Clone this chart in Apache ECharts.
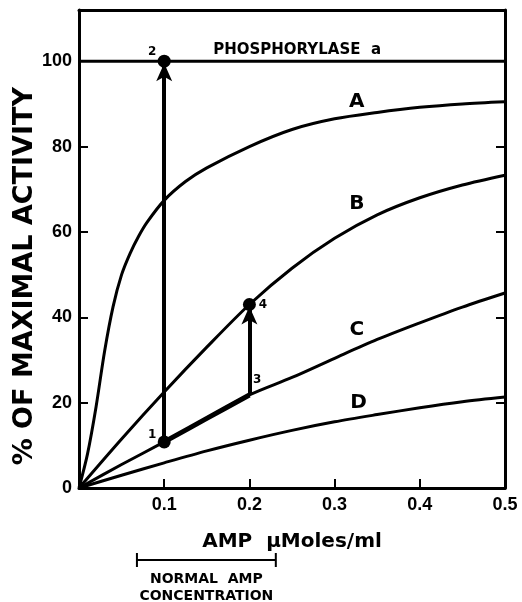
<!DOCTYPE html>
<html><head><meta charset="utf-8">
<script src="https://cdn.jsdelivr.net/npm/echarts@6/dist/echarts.min.js"></script>
<style>html,body{margin:0;padding:0;background:#fff}#c{width:522px;height:602px}</style>
</head><body><div id="c"></div>
<script>
// ---- data ----
const aX = [0, 0.01, 0.02, 0.03, 0.04, 0.05, 0.06, 0.07, 0.08, 0.1, 0.125, 0.15, 0.2, 0.25, 0.3, 0.35, 0.4, 0.45, 0.5];
const aY = [0, 8, 19, 32, 42.5, 50, 55, 59, 62.3, 67.4, 71.8, 75, 80, 84, 86.5, 88, 89.2, 90, 90.5];
const bX = [0, 0.05, 0.1, 0.15, 0.2, 0.25, 0.3, 0.35, 0.4, 0.45, 0.5];
const bY = [0, 11.5, 22.5, 33, 43, 51.5, 58.5, 64, 68, 71, 73.3];
const cX = [0, 0.05, 0.1, 0.15, 0.2, 0.25, 0.3, 0.35, 0.4, 0.45, 0.5];
const cY = [0, 5.5, 10.8, 16.3, 21.8, 25.9, 30.4, 34.8, 38.7, 42.4, 45.7];
const dX = [0, 0.05, 0.1, 0.15, 0.2, 0.25, 0.3, 0.35, 0.4, 0.45, 0.5];
const dY = [0, 3, 5.9, 8.7, 11.2, 13.5, 15.5, 17.2, 18.8, 20.2, 21.3];
const phosX = [0, 0.5];
const phosY = [100, 100];
const dotX = [0.1, 0.1, 0.2];
const dotY = [10.8, 100, 43];
const arrowX = [0.1, 0.2];
const arrowFrom = [10.8, 21.8];
const arrowTo = [99.5, 42.5];
const numX = [0.086, 0.086, 0.209, 0.216];
const numY = [12.4, 102.3, 25.3, 43];
const numText = ['1', '2', '3', '4'];
const curveLabelX = [0.326, 0.326, 0.326, 0.328];
const curveLabelY = [90.4, 66.7, 37, 20];
const curveLabelText = ['A', 'B', 'C', 'D'];
const phosLabel = 'PHOSPHORYLASE  a';
const phosLabelX = 0.256, phosLabelY = 102.6;
const normalRange = [0.068, 0.231];
const xTicks = [0, 0.1, 0.2, 0.3, 0.4, 0.5];
const yTicks = [0, 20, 40, 60, 80, 100];

const pairs = (xs, ys) => xs.map((x, i) => [x, ys[i]]);
const BOLD = 'DejaVu Sans';
const NUMF = 'Liberation Sans';
const black = '#000';

const chart = echarts.init(document.getElementById('c'), null, {renderer: 'canvas'});
const boldC = cX.map((x, i) => [x, cY[i]]).filter(p => p[0] >= 0.1 && p[0] <= 0.2);
const frameLine = {show: true, onZero: false, lineStyle: {color: black, width: 3}};
const solidItem = {color: black, opacity: 1};

chart.setOption({
  animation: false,
  backgroundColor: '#fff',
  grid: [
    {left: 79, right: 17, top: 10, bottom: 114},
    {left: 79, right: 17, top: 553, height: 14}
  ],
  xAxis: [
    {gridIndex: 0, type: 'value', min: 0, max: 0.5, interval: 0.1, position: 'bottom',
     axisLine: frameLine,
     axisTick: {show: true, inside: true, length: 9, lineStyle: {color: black, width: 2}},
     axisLabel: {showMinLabel: false, color: black, fontFamily: NUMF, fontWeight: 'bold', fontSize: 18, margin: 8,
       formatter: v => xTicks.includes(Math.round(v*10)/10) ? String(Math.round(v*10)/10) : ''},
     splitLine: {show: false},
     name: 'AMP  \u03bcMoles/ml', nameLocation: 'middle', nameGap: 44,
     nameTextStyle: {color: black, fontFamily: BOLD, fontWeight: 'bold', fontSize: 20}},
    {gridIndex: 0, type: 'value', min: 0, max: 0.5, position: 'top',
     axisLine: frameLine,
     axisTick: {show: false}, axisLabel: {show: false}, splitLine: {show: false}},
    {gridIndex: 1, type: 'value', min: 0, max: 0.5, show: false}
  ],
  yAxis: [
    {gridIndex: 0, type: 'value', min: 0, max: 112, interval: 20, position: 'left',
     axisLine: frameLine,
     axisTick: {show: true, inside: true, length: 9, lineStyle: {color: black, width: 2}},
     axisLabel: {showMaxLabel: false, color: black, fontFamily: NUMF, fontWeight: 'bold', fontSize: 18, margin: 7,
       formatter: v => yTicks.includes(v) ? String(v) : ''},
     splitLine: {show: false}},
    {gridIndex: 0, type: 'value', min: 0, max: 112, interval: 20, position: 'right',
     axisLine: frameLine,
     axisTick: {show: true, inside: true, length: 9, lineStyle: {color: black, width: 2}},
     axisLabel: {show: false}, splitLine: {show: false}},
    {gridIndex: 1, type: 'value', min: 0, max: 1, show: false}
  ],
  graphic: [
    {type: 'text', left: 11, top: 87, rotation: Math.PI/2,
     style: {text: '% OF MAXIMAL ACTIVITY', fill: black, font: 'bold 27px "DejaVu Sans"'}}
  ],
  series: [
    {type: 'line', data: pairs(aX, aY), smooth: 0.3, showSymbol: false, lineStyle: {color: black, width: 3}},
    {type: 'line', data: pairs(bX, bY), smooth: 0.3, showSymbol: false, lineStyle: {color: black, width: 3}},
    {type: 'line', data: pairs(cX, cY), smooth: 0.3, showSymbol: false, lineStyle: {color: black, width: 3}},
    {type: 'line', data: boldC, smooth: 0.3, showSymbol: false, lineStyle: {color: black, width: 5}},
    {type: 'line', data: pairs(dX, dY), smooth: 0.3, showSymbol: false, lineStyle: {color: black, width: 3}},
    {type: 'line', data: pairs(phosX, phosY), showSymbol: false, lineStyle: {color: black, width: 3}},
    {type: 'scatter', data: pairs(dotX, dotY), symbol: 'circle', symbolSize: 13, itemStyle: solidItem,
     markLine: {silent: true, symbol: ['none', 'arrow'], symbolSize: [12, 18], label: {show: false},
       lineStyle: {color: black, width: 4, type: 'solid', opacity: 1},
       data: arrowX.map((x, i) => [{coord: [x, arrowFrom[i]]}, {coord: [x, arrowTo[i]]}])}},
    {type: 'scatter', data: numX.map((x, i) => [x, numY[i], numText[i]]), symbolSize: 0, itemStyle: solidItem,
     label: {show: true, position: 'inside', formatter: p => p.value[2], color: black,
       fontFamily: BOLD, fontWeight: 'bold', fontSize: 12}},
    {type: 'scatter', data: curveLabelX.map((x, i) => [x, curveLabelY[i], curveLabelText[i]]), symbolSize: 0, itemStyle: solidItem,
     label: {show: true, position: 'inside', formatter: p => p.value[2], color: black,
       fontFamily: BOLD, fontWeight: 'bold', fontSize: 20}},
    {type: 'scatter', data: [[phosLabelX, phosLabelY, phosLabel]], symbolSize: 0, itemStyle: solidItem,
     label: {show: true, position: 'inside', formatter: p => p.value[2], color: black,
       fontFamily: BOLD, fontWeight: 'bold', fontSize: 15}},
    {type: 'line', xAxisIndex: 2, yAxisIndex: 2, showSymbol: false, lineStyle: {color: black, width: 2},
     data: [[normalRange[0], 0], [normalRange[0], 1], [normalRange[0], 0.5], [normalRange[1], 0.5], [normalRange[1], 1], [normalRange[1], 0]]},
    {type: 'scatter', xAxisIndex: 2, yAxisIndex: 2, symbolSize: 0, itemStyle: solidItem,
     data: [[(normalRange[0] + normalRange[1]) / 2, 0]],
     label: {show: true, position: 'bottom', distance: 4, formatter: 'NORMAL  AMP\nCONCENTRATION', color: black,
       fontFamily: BOLD, fontWeight: 'bold', fontSize: 14, lineHeight: 17, align: 'center'}}
  ]
});
</script></body></html>
